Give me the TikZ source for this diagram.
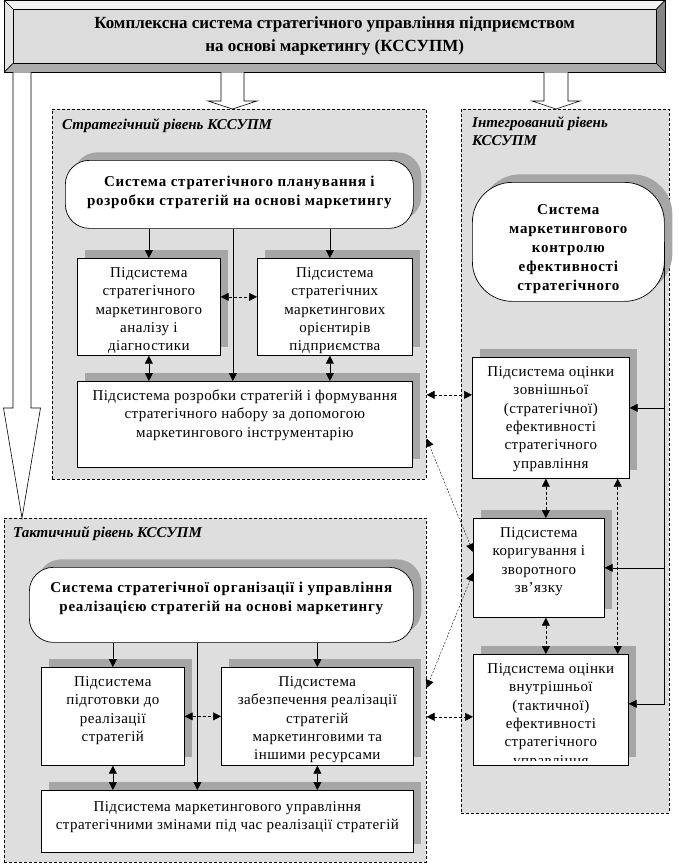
\documentclass[tikz,border=0pt]{standalone}
\usepackage{fontspec}
\setmainfont{Liberation Serif}
\newfontfamily\sysfont{Liberation Serif}[LetterSpace=5]
\newfontfamily\subfont{Liberation Serif}[LetterSpace=3]
\usepackage{xcolor}
\usepackage{tikz}
\usetikzlibrary{arrows.meta, positioning, calc, shadows}
\definecolor{panelbg}{HTML}{DEDEDE}
\definecolor{shadowgray}{HTML}{A6A6A6}
\definecolor{bannerface}{HTML}{DCDCDC}
\definecolor{bevtop}{HTML}{F2F2F2}
\definecolor{bevleft}{HTML}{E4E4E4}
\definecolor{bevright}{HTML}{858585}
\definecolor{bevbottom}{HTML}{ACACAC}

\newcommand{\boxtext}[4][19pt]{\parbox[c][#3][t]{#2}{\centering\rule{0pt}{#1}#4}}
% start, tip, shaft half width, head half width, head length
\newcommand{\bigarrow}[5]{%
  \draw[hollow] ($(#1)+(-#3,0)$) -- ($(#2)+(-#3,-#5)$) -- ($(#2)+(-#4,-#5)$) -- (#2)
    -- ($(#2)+(#4,-#5)$) -- ($(#2)+(#3,-#5)$) -- ($(#1)+(#3,0)$);}

\begin{document}
\begin{tikzpicture}[x=1pt, y=-1pt,
  panel/.style={draw, dash pattern=on 3pt off 2pt, fill=panelbg, line width=0.6pt, inner sep=0pt, anchor=north west},
  sysbox/.style={draw, fill=white, rounded corners=24pt, line width=0.7pt, inner sep=0pt, anchor=north west,
    font=\sysfont\bfseries\fontsize{15}{19}\selectfont,
    drop shadow={shadow xshift=8pt, shadow yshift=8pt, fill=shadowgray, opacity=1}},
  subbox/.style={draw, fill=white, line width=0.7pt, inner sep=0pt, anchor=north west,
    font=\subfont\fontsize{15}{18.4}\selectfont,
    drop shadow={shadow xshift=8pt, shadow yshift=8pt, fill=shadowgray, opacity=1}},
  lvltitle/.style={anchor=west, inner sep=0pt, font=\bfseries\itshape\fontsize{15}{18}\selectfont},
  flow/.style={-{Triangle[length=8pt,width=8pt]}, line width=0.6pt},
  twoway/.style={{Triangle[length=8pt,width=8pt]}-{Triangle[length=8pt,width=8pt]}, line width=0.6pt},
  dtwoway/.style={twoway, dash pattern=on 3pt off 2pt},
  crosslink/.style={twoway, dash pattern=on 2pt off 1.5pt, line width=0.4pt},
  hollow/.style={draw, fill=white, line width=0.6pt}]
\useasboundingbox[fill=white] (0,0) rectangle (679,867);

% banner
\node[minimum width=661pt, minimum height=72pt, inner sep=0pt, anchor=north west] (kbanner) at (4,0) {};
\fill[bevtop] (kbanner.north west) -- (kbanner.north east) -- ($(kbanner.north east)+(-9,9)$) -- ($(kbanner.north west)+(9,9)$) -- cycle;
\fill[bevleft] (kbanner.north west) -- ($(kbanner.north west)+(9,9)$) -- ($(kbanner.south west)+(9,-9)$) -- (kbanner.south west) -- cycle;
\fill[bevright] (kbanner.north east) -- (kbanner.south east) -- ($(kbanner.south east)+(-9,-9)$) -- ($(kbanner.north east)+(-9,9)$) -- cycle;
\fill[bevbottom] (kbanner.south west) -- (kbanner.south east) -- ($(kbanner.south east)+(-9,-9)$) -- ($(kbanner.south west)+(9,-9)$) -- cycle;
\node[draw, fill=bannerface, minimum width=643pt, minimum height=54pt, inner sep=0pt, line width=0.6pt, align=center,
  font=\bfseries\fontsize{17}{23}\selectfont] (ksys) at (kbanner.center)
  {Комплексна система стратегічного управління підприємством\\на основі маркетингу (КССУПМ)};
\draw[line width=0.6pt] (kbanner.north west) -- (ksys.north west) (kbanner.north east) -- (ksys.north east)
  (kbanner.south west) -- (ksys.south west) (kbanner.south east) -- (ksys.south east);
\draw[line width=0.8pt] (kbanner.north west) rectangle (kbanner.south east);

% levels
\node[panel, minimum width=374pt, minimum height=370pt] (sp) at (52,109) {};
\node[panel, minimum width=208pt, minimum height=704pt] (ip) at (461,109) {};
\node[panel, minimum width=422pt, minimum height=344pt] (tp) at (4,518) {};
\node[lvltitle] (sptitle) at (62,126) {Стратегічний рівень КССУПМ};
\node[lvltitle, align=left, anchor=north west] (iptitle) at (472,116) {Інтегрований рівень\\КССУПМ};
\node[lvltitle] (tptitle) at (13,534) {Тактичний рівень КССУПМ};

\bigarrow{kbanner.south -| 232.5,0}{sp.north -| 232.5,0}{11.5}{24.5}{8}
\bigarrow{kbanner.south -| 556,0}{ip.north -| 556,0}{12}{24}{8}
\bigarrow{kbanner.south -| 22,0}{tp.north -| 22,0}{9}{18.5}{110}

% strategic level
\node[sysbox] (splan) at (65,160) {\boxtext[26.5pt]{348pt}{68pt}{Система стратегічного планування і\\розробки стратегій на основі маркетингу}};
\node[subbox] (sanal) at (77,258) {\boxtext{143pt}{97pt}{Підсистема\\стратегічного\\маркетингового\\аналізу і\\діагностики}};
\node[subbox] (sorient) at (257,258) {\boxtext{155pt}{97pt}{Підсистема\\стратегічних\\маркетингових\\орієнтирів\\підприємства}};
\node[subbox] (sform) at (77,381) {\boxtext{335pt}{86pt}{Підсистема розробки стратегій і формування\\стратегічного набору за допомогою\\маркетингового інструментарію}};

\coordinate (sorienttop) at ([xshift=-5pt]sorient.north);
\coordinate (sorientbot) at ([xshift=-5pt]sorient.south);
\draw[flow] (splan.south -| sanal.north) -- (sanal.north);
\draw[flow] (splan.south -| sorienttop) -- (sorienttop);
\draw[flow] ([xshift=-6.5pt]splan.south) -- ([xshift=-6.5pt]splan.south |- sform.north);
\draw[twoway] (sanal.south) -- (sanal.south |- sform.north);
\draw[twoway] (sorientbot) -- (sorientbot |- sform.north);
\draw[dtwoway] ([yshift=10pt]sanal.east) -- ([yshift=10pt]sorient.west);

% integrated level
\node[sysbox, rounded corners=40pt] (ictrl) at (472,182) {\boxtext[32.5pt]{192pt}{119pt}{Система\\маркетингового\\контролю\\ефективності\\стратегічного}};
\node[subbox] (iext) at (472,357) {\boxtext{157pt}{121pt}{Підсистема оцінки\\зовнішньої\\(стратегічної)\\ефективності\\стратегічного\\управління}};
\node[subbox] (icorr) at (473,518) {\boxtext{131pt}{99pt}{Підсистема\\коригування і\\зворотного\\зв’язку}};
\node[subbox] (iint) at (473,654) {\rule{155pt}{0pt}\rule{0pt}{111pt}};
\begin{scope}
  \clip (iint.north west) rectangle ([yshift=5pt]iint.south east);
  \node[anchor=north, inner sep=0pt, font=\subfont\fontsize{15}{18.4}\selectfont] (iinttext) at (iint.north)
    {\boxtext{155pt}{111pt}{Підсистема оцінки\\внутрішньої\\(тактичної)\\ефективності\\стратегічного\\управління}};
\end{scope}

\coordinate (iextin) at ([yshift=10pt]iext.east);
\coordinate (iintin) at ([yshift=6pt]iint.east);
\draw[line width=0.6pt] (ictrl.east) -- (ictrl.east |- iintin);
\draw[flow] (ictrl.east |- iextin) -- (iextin);
\draw[flow] (ictrl.east |- icorr.east) -- (icorr.east);
\draw[flow] (ictrl.east |- iintin) -- (iintin);

\coordinate (ivert) at ($(icorr.north)+(7,0)$);
\coordinate (iside) at ($(iext.south east)+(-12,0)$);
\draw[dtwoway] (ivert |- iext.south) -- (ivert);
\draw[dtwoway] (ivert |- icorr.south) -- (ivert |- iint.north);
\draw[dtwoway] (iside) -- (iside |- iint.north);

% tactical level
\node[sysbox] (torg) at (29,567) {\boxtext[25.5pt]{384pt}{75pt}{Система стратегічної організації і управління\\реалізацією стратегій на основі маркетингу}};
\node[subbox] (tprep) at (41,667) {\boxtext{143pt}{98pt}{Підсистема\\підготовки до\\реалізації\\стратегій}};
\node[subbox] (tres) at (221,667) {\boxtext{192pt}{98pt}{Підсистема\\забезпечення реалізації\\стратегій\\маркетинговими та\\іншими ресурсами}};
\node[subbox] (tchange) at (41,790) {\boxtext[21pt]{372pt}{62pt}{Підсистема маркетингового управління\\стратегічними змінами під час реалізації стратегій}};

\draw[flow] (torg.south -| tprep.north) -- (tprep.north);
\draw[flow] (torg.south -| tres.north) -- (tres.north);
\draw[flow] ([xshift=-24pt]torg.south) -- ([xshift=-24pt]torg.south |- tchange.north);
\draw[twoway] (tprep.south) -- (tprep.south |- tchange.north);
\draw[twoway] (tres.south) -- (tres.south |- tchange.north);
\draw[dtwoway] (tprep.east) -- (tres.west);

% links between levels
\coordinate (xs1) at ([yshift=23pt]iext.west);
\coordinate (xs2) at ([yshift=-7pt]iint.west);
\coordinate (xd1) at ([yshift=16pt]icorr.west);
\coordinate (xd2) at ([yshift=-5pt]icorr.west);
\coordinate (sd) at ([yshift=41pt]sp.south east);
\coordinate (td) at ([yshift=-170pt]tp.north east);
\draw[dtwoway] (sp.east |- xs1) -- (xs1);
\draw[crosslink] (sd) -- (xd1);
\draw[crosslink] (xd2) -- (td);
\draw[dtwoway] (tp.east |- xs2) -- (xs2);
\end{tikzpicture}
\end{document}
